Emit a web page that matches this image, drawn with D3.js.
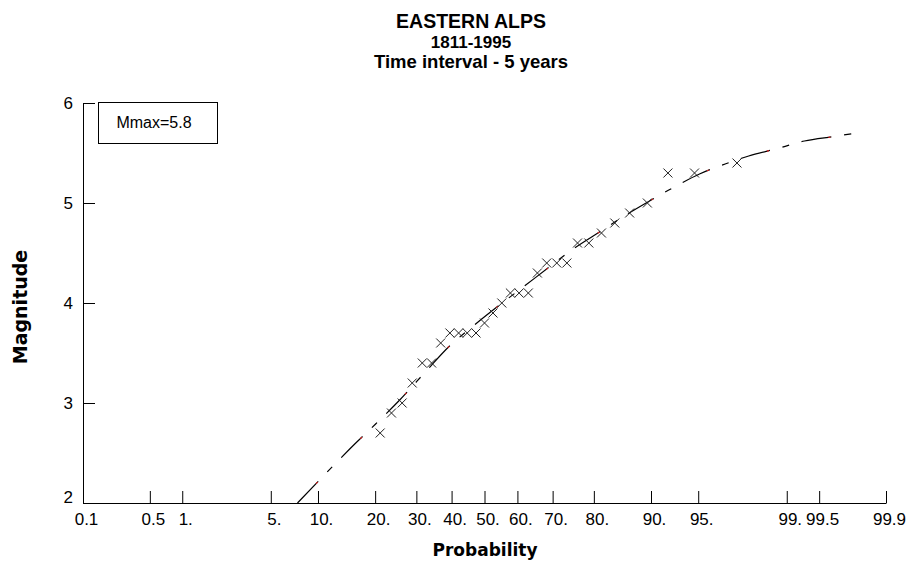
<!DOCTYPE html>
<html>
<head>
<meta charset="utf-8">
<script src="https://cdn.jsdelivr.net/npm/d3@7"></script>
<style>
  body { margin: 0; background: #fff; }
  svg text { font-family: "Liberation Sans", Arial, Helvetica, sans-serif; fill: #000; }
</style>
</head>
<body>
<svg id="chart" width="911" height="564"></svg>
<script>
// Probability-paper axis ticks (percent) and their printed labels
const probTicks = [0.1, 0.5, 1, 5, 10, 20, 30, 40, 50, 60, 70, 80, 90, 95, 99, 99.5, 99.9];
const probTickLabels = ["0.1", "0.5", "1.", "5.", "10.", "20.", "30.", "40.", "50.", "60.", "70.", "80.", "90.", "95.", "99.", "99.5", "99.9"];
const magTicks = [2, 3, 4, 5, 6];

// Observed maximum magnitudes per 5-year interval with plotting probabilities (%)
const obsProb = [21.1, 23.7, 26.3, 28.9, 31.6, 34.2, 36.8, 39.5, 42.1, 44.7, 47.4, 50.0, 52.6, 55.3, 57.9,
                 60.5, 63.2, 65.8, 68.4, 71.1, 73.7, 76.3, 78.9, 81.6, 84.2, 86.8, 89.5, 92.1, 94.7, 97.4];
const obsMag  = [2.7, 2.9, 3.0, 3.2, 3.4, 3.4, 3.6, 3.7, 3.7, 3.7, 3.7, 3.8, 3.9, 4.0, 4.1,
                 4.1, 4.1, 4.3, 4.4, 4.4, 4.4, 4.6, 4.6, 4.7, 4.8, 4.9, 5.0, 5.3, 5.3, 5.4];

// Fitted extreme-value curve (percent, magnitude)
const fitProb = [7.5, 14.8, 20.1, 25.7, 32.2, 39.4, 46.9, 54.6, 62.1, 69.1, 75.6, 81.2, 85.9, 89.8,
                 92.8, 95.1, 96.8, 97.9, 98.84, 99.31, 99.645, 99.79];
const fitMag  = [2.0, 2.53, 2.79, 3.03, 3.30, 3.57, 3.78, 3.98, 4.17, 4.36, 4.55, 4.71, 4.87, 5.02,
                 5.16, 5.29, 5.39, 5.47, 5.55, 5.62, 5.665, 5.70];

const titleLines = ["EASTERN ALPS", "1811-1995", "Time interval - 5 years"];
const mmaxLabel = "Mmax=5.8";

// Inverse standard normal CDF (Acklam's rational approximation)
function probit(p) {
  const a = [-3.969683028665376e+01, 2.209460984245205e+02, -2.759285104469687e+02,
             1.383577518672690e+02, -3.066479806614716e+01, 2.506628277459239e+00];
  const b = [-5.447609879822406e+01, 1.615858368580409e+02, -1.556989798598866e+02,
             6.680131188771972e+01, -1.328068155288572e+01];
  const c = [-7.784894002430293e-03, -3.223964580411365e-01, -2.400758277161838e+00,
             -2.549732539343734e+00, 4.374664141464968e+00, 2.938163982698783e+00];
  const d = [7.784695709041462e-03, 3.224671290700398e-01, 2.445134137142996e+00,
             3.754408661907416e+00];
  const pl = 0.02425, ph = 1 - pl;
  let q, r;
  if (p < pl) {
    q = Math.sqrt(-2 * Math.log(p));
    return (((((c[0]*q+c[1])*q+c[2])*q+c[3])*q+c[4])*q+c[5]) / ((((d[0]*q+d[1])*q+d[2])*q+d[3])*q+1);
  }
  if (p <= ph) {
    q = p - 0.5; r = q * q;
    return (((((a[0]*r+a[1])*r+a[2])*r+a[3])*r+a[4])*r+a[5])*q / (((((b[0]*r+b[1])*r+b[2])*r+b[3])*r+b[4])*r+1);
  }
  q = Math.sqrt(-2 * Math.log(1 - p));
  return -(((((c[0]*q+c[1])*q+c[2])*q+c[3])*q+c[4])*q+c[5]) / ((((d[0]*q+d[1])*q+d[2])*q+d[3])*q+1);
}
const z = pct => probit(pct / 100);

const svg = d3.select("#chart");
const plotLeft = 83, plotRight = 886, plotTop = 103, plotBottom = 503;

// Normal-probability x scale: linear in the standard normal quantile
const xz = d3.scaleLinear().domain([z(0.1), z(99.9)]).range([plotLeft, plotRight]);
const x = pct => xz(z(pct));
const y = d3.scaleLinear().domain([2, 6]).range([plotBottom, plotTop]);

// Titles
const titleSizes = [19.5, 17, 18.5];
const titleY = [27.5, 47.5, 68];
titleLines.forEach((t, i) => {
  svg.append("text")
    .attr("x", 471).attr("y", titleY[i])
    .attr("text-anchor", "middle")
    .attr("font-weight", "bold")
    .attr("font-size", titleSizes[i])
    .text(t);
});

// X axis (ticks pointing inward)
const xAxis = d3.axisBottom(xz)
  .tickValues(probTicks.map(z))
  .tickFormat((d, i) => probTickLabels[i])
  .tickSizeInner(-12).tickSizeOuter(0).tickPadding(10);
const gx = svg.append("g").attr("transform", `translate(0,${plotBottom})`).call(xAxis);
gx.selectAll("text").attr("font-size", 17).attr("dx", 3)
  .style("font-family", '"Liberation Sans", Arial, sans-serif');

// Y axis
const yAxis = d3.axisLeft(y)
  .tickValues(magTicks)
  .tickFormat(d3.format("d"))
  .tickSizeInner(-12).tickSizeOuter(0).tickPadding(10);
const gy = svg.append("g").attr("transform", `translate(${plotLeft},0)`).call(yAxis);
gy.selectAll("text").attr("font-size", 17)
  .style("font-family", '"Liberation Sans", Arial, sans-serif');
gy.selectAll(".tick").filter(d => d === 2).select("text").attr("dy", "-0.05em");

[gx, gy].forEach(g => {
  g.selectAll("path, line").attr("stroke", "#000").attr("stroke-width", 1);
});

// Axis titles
svg.append("text")
  .attr("x", 485).attr("y", 556)
  .attr("text-anchor", "middle")
  .attr("font-weight", "bold").attr("font-size", 17)
  .style("font-family", '"DejaVu Sans", sans-serif')
  .text("Probability");
svg.append("text")
  .attr("transform", "translate(27,307) rotate(-90)")
  .attr("text-anchor", "middle")
  .attr("font-weight", "bold").attr("font-size", 19)
  .style("font-family", '"DejaVu Sans", sans-serif')
  .text("Magnitude");

// Mmax legend box
svg.append("rect")
  .attr("x", 98.5).attr("y", 102.5).attr("width", 119).attr("height", 41)
  .attr("fill", "#fff").attr("stroke", "#000").attr("stroke-width", 1);
svg.append("text")
  .attr("x", 154).attr("y", 128)
  .attr("text-anchor", "middle").attr("font-size", 16)
  .text(mmaxLabel);

// Fitted curve: black dash-dot with sparse red dots
const fitData = fitProb.map((p, i) => [p, fitMag[i]]);
const line = d3.line().x(d => x(d[0])).y(d => y(d[1])).curve(d3.curveCatmullRom);
svg.append("path")
  .datum(fitData)
  .attr("d", line)
  .attr("fill", "none").attr("stroke", "#000").attr("stroke-width", 1.2)
  .attr("stroke-dasharray", "30,13,7,13");
svg.append("path")
  .datum(fitData)
  .attr("d", line)
  .attr("fill", "none").attr("stroke", "#e02020").attr("stroke-width", 1.2)
  .attr("stroke-dasharray", "2,61").attr("stroke-dashoffset", -27);

// Observed points as crosses
const obs = obsProb.map((p, i) => ({ p, m: obsMag[i] }));
const s = 4.5;
const crosses = svg.append("g").selectAll("g").data(obs).join("g")
  .attr("transform", d => `translate(${x(d.p)},${y(d.m)})`);
crosses.append("path")
  .attr("d", `M${-s},${-s}L${s},${s}M${-s},${s}L${s},${-s}`)
  .attr("stroke", "#222").attr("stroke-width", 1).attr("fill", "none");
</script>
</body>
</html>
